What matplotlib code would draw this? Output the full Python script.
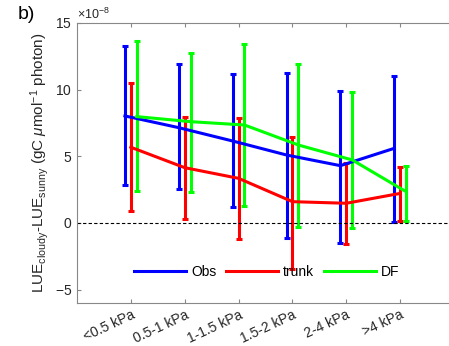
import numpy as np
import matplotlib
matplotlib.use('Agg')
import matplotlib.pyplot as plt
from matplotlib.lines import Line2D
from matplotlib.ticker import ScalarFormatter

plt.rcParams['font.family'] = ['Liberation Sans', 'DejaVu Sans']
plt.rcParams['mathtext.fontset'] = 'custom'
plt.rcParams['mathtext.rm'] = 'Liberation Sans'
plt.rcParams['mathtext.it'] = 'Liberation Sans:italic'

# VPD classes
categories = ['<0.5 kPa', '0.5-1 kPa', '1-1.5 kPa', '1.5-2 kPa', '2-4 kPa', '>4 kPa']

# LUE difference (x 1e-8): mean, lower end, upper end of the bars
obs_mean = [8.03, 7.15, 6.15, 5.10, 4.30, 5.60]
obs_low = [2.85, 2.58, 1.18, -1.15, -1.48, 0.05]
obs_high = [13.28, 11.90, 11.20, 11.28, 9.90, 11.05]

trunk_mean = [5.68, 4.15, 3.35, 1.60, 1.48, 2.22]
trunk_low = [0.92, 0.28, -1.20, -3.47, -1.60, 0.17]
trunk_high = [10.48, 7.93, 7.85, 6.48, 4.48, 4.23]

df_mean = [7.98, 7.60, 7.35, 5.85, 4.73, 2.35]
df_low = [2.43, 2.30, 1.30, -0.33, -0.35, 0.17]
df_high = [13.65, 12.78, 13.45, 11.90, 9.80, 4.30]

series = [
    ('Obs', obs_mean, obs_low, obs_high, (0, 0, 1), -0.11),
    ('trunk', trunk_mean, trunk_low, trunk_high, (1, 0, 0), 0.0),
    ('DF', df_mean, df_low, df_high, (0, 1, 0), 0.11),
]

scale = 1e-8
fig = plt.figure(figsize=(4.49, 3.46), dpi=100)
ax = fig.add_axes([77 / 449, 43 / 346, 377 / 449, 280 / 346])

x = np.arange(1, len(categories) + 1)
handles = []
for name, mean, low, high, color, shift in series:
    mean = np.array(mean) * scale
    low = np.array(low) * scale
    high = np.array(high) * scale
    ax.errorbar(x + shift, mean, yerr=[mean - low, high - mean], fmt='-',
                color=color, lw=2.2, elinewidth=2.2, capsize=2.2, capthick=2.2)
    handles.append(Line2D([], [], color=color, lw=2.2, label=name))

ax.axhline(0, color='black', lw=0.8, ls=(0, (3, 2)))

ax.set_xlim(0, 7)
ax.set_ylim(-6 * scale, 15 * scale)
ax.set_xticks(x)
ax.set_xticklabels(categories, rotation=25, ha='right', va='top',
                   rotation_mode='anchor')
ax.set_yticks(np.array([-5, 0, 5, 10, 15]) * scale)

# fixed exponent for the y axis: x10^-8
fmt = ScalarFormatter(useMathText=True)
fmt.set_powerlimits((-8, -8))
ax.yaxis.set_major_formatter(fmt)
ax.yaxis.get_offset_text().set_fontsize(9)
ax.yaxis.get_offset_text().set_color('#404040')

for s in ax.spines.values():
    s.set_color('#888888')
ax.tick_params(direction='in', top=True, right=True, length=3,
               color='#888888', labelsize=10, labelcolor='#262626')

ax.set_ylabel(r'LUE$_{\rm cloudy}$-LUE$_{\rm sunny}$ (gC $\mu$mol$^{-1}$ photon)',
              fontsize=11, color='#262626', labelpad=3)

ax.legend(handles=handles, loc='center', bbox_to_anchor=(0.504, 0.112), ncol=3,
          frameon=False, fontsize=10, handlelength=3.7, handletextpad=0.4,
          columnspacing=0.7)

fig.text(18 / 449, 1 - 6 / 346, 'b)', fontsize=14, va='top', ha='left')

fig.savefig('out.png', dpi=100)
